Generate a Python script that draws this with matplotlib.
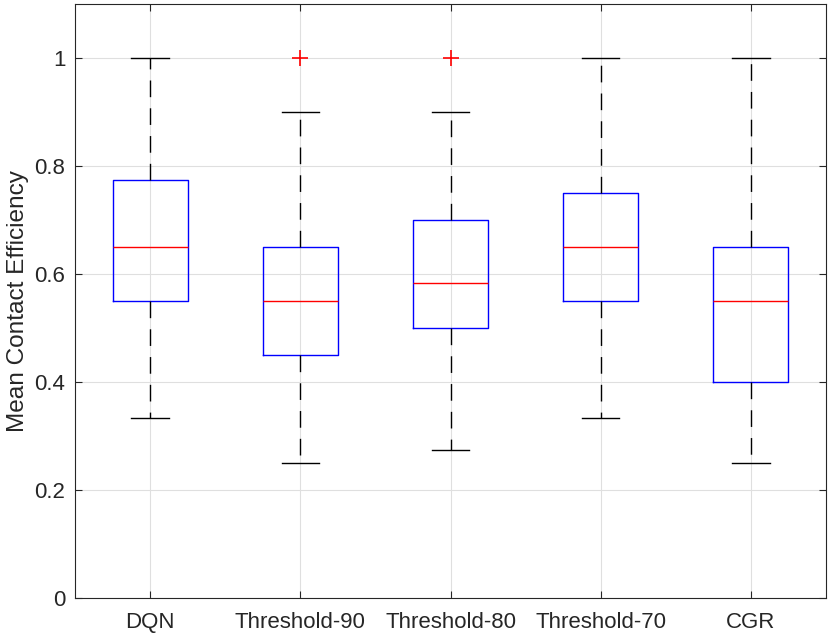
import numpy as np
import matplotlib.pyplot as plt

# boxplot summary values
methods = ['DQN', 'Threshold-90', 'Threshold-80', 'Threshold-70', 'CGR']
whislo = [0.333, 0.25, 0.275, 0.333, 0.25]
q1 = [0.55, 0.45, 0.50, 0.55, 0.40]
med = [0.65, 0.55, 0.583, 0.65, 0.55]
q3 = [0.775, 0.65, 0.70, 0.75, 0.65]
whishi = [1.0, 0.9, 0.9, 1.0, 1.0]
fliers = [[], [1.0], [1.0], [], []]

plt.rcParams['font.family'] = ['Liberation Sans', 'DejaVu Sans']

stats = []
for i in range(len(methods)):
    stats.append({'label': methods[i], 'whislo': whislo[i], 'q1': q1[i], 'med': med[i],
                  'q3': q3[i], 'whishi': whishi[i], 'fliers': fliers[i]})

fig = plt.figure(figsize=(8.3, 6.36), dpi=100)
ax = fig.add_axes([75 / 830, 38 / 636, 751 / 830, 594 / 636])

ax.bxp(stats, positions=np.arange(1, len(methods) + 1), widths=0.5, showfliers=True,
       boxprops=dict(color='blue', linewidth=1.0),
       medianprops=dict(color='red', linewidth=1.0),
       whiskerprops=dict(color='black', linewidth=1.0, linestyle=(0, (12, 8))),
       capprops=dict(color='black', linewidth=1.0),
       capwidths=0.25,
       flierprops=dict(marker='+', markeredgecolor='red', markersize=11, markeredgewidth=1.2))

ax.set_xlim(0.5, 5.5)
ax.set_ylim(0, 1.1)
ax.set_yticks([0, 0.2, 0.4, 0.6, 0.8, 1.0])
ax.set_yticklabels(['0', '0.2', '0.4', '0.6', '0.8', '1'])
ax.set_xticks(np.arange(1, len(methods) + 1))
ax.set_xticklabels(methods)
ax.grid(True, color='#dfdfdf', linewidth=0.8)
ax.set_axisbelow(True)
ax.tick_params(direction='in', top=True, right=True, labelsize=16, colors='#262626',
               length=5, width=0.8, pad=7)
ax.tick_params(axis='x', pad=10)
for s in ax.spines.values():
    s.set_color('#262626')
    s.set_linewidth(0.8)
ax.set_ylabel('Mean Contact Efficiency', fontsize=17.6, color='#262626', labelpad=4)

fig.savefig('out.png', dpi=100)
